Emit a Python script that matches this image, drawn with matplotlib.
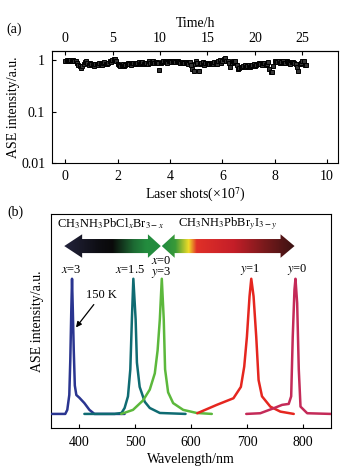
import numpy as np
import matplotlib
matplotlib.use("Agg")
import matplotlib.pyplot as plt
from matplotlib.colors import LinearSegmentedColormap
from matplotlib.patches import Polygon

plt.rcParams['font.family'] = ['Liberation Serif', 'DejaVu Serif']
plt.rcParams['mathtext.fontset'] = 'stix'
plt.rcParams['font.size'] = 10

#---- panel (a): ASE intensity vs number of laser shots (x1e7) ----
shots = [0.00, 0.05, 0.10, 0.15, 0.20, 0.25, 0.30, 0.35, 0.40, 0.45,
         0.50, 0.55, 0.60, 0.65, 0.70, 0.75, 0.80, 0.85, 0.90, 0.95,
         1.00, 1.05, 1.10, 1.15, 1.20, 1.25, 1.30, 1.35, 1.40, 1.45,
         1.50, 1.55, 1.60, 1.65, 1.70, 1.75, 1.80, 1.85, 1.90, 1.95,
         2.00, 2.05, 2.10, 2.15, 2.20, 2.25, 2.30, 2.35, 2.40, 2.45,
         2.50, 2.55, 2.60, 2.65, 2.70, 2.75, 2.80, 2.85, 2.90, 2.95,
         3.00, 3.05, 3.10, 3.15, 3.20, 3.25, 3.30, 3.35, 3.40, 3.45,
         3.50, 3.55, 3.60, 3.65, 3.70, 3.75, 3.80, 3.85, 3.90, 3.95,
         4.00, 4.05, 4.10, 4.15, 4.20, 4.25, 4.30, 4.35, 4.40, 4.45,
         4.50, 4.55, 4.60, 4.65, 4.70, 4.75, 4.80, 4.85, 4.90, 4.95,
         5.00, 5.05, 5.10, 5.15, 5.20, 5.25, 5.30, 5.35, 5.40, 5.45,
         5.50, 5.55, 5.60, 5.65, 5.70, 5.75, 5.80, 5.85, 5.90, 5.95,
         6.00, 6.05, 6.10, 6.15, 6.20, 6.25, 6.30, 6.35, 6.40, 6.45,
         6.50, 6.55, 6.60, 6.65, 6.70, 6.75, 6.80, 6.85, 6.90, 6.95,
         7.00, 7.05, 7.10, 7.15, 7.20, 7.25, 7.30, 7.35, 7.40, 7.45,
         7.50, 7.55, 7.60, 7.65, 7.70, 7.75, 7.80, 7.85, 7.90, 7.95,
         8.00, 8.05, 8.10, 8.15, 8.20, 8.25, 8.30, 8.35, 8.40, 8.45,
         8.50, 8.55, 8.60, 8.65, 8.70, 8.75, 8.80, 8.85, 8.90, 8.95,
         9.00, 9.05, 9.10, 9.15, 9.20]
ase_a = [0.97, 1.02, 0.95, 0.98, 1.00, 0.96, 1.02, 0.98, 0.95, 0.88,
         0.82, 0.76, 0.70, 0.78, 0.85, 0.92, 0.98, 0.88, 0.80, 0.90,
         0.85, 0.80, 0.78, 0.84, 0.85, 0.80, 0.88, 0.85, 0.80, 0.88,
         0.92, 0.84, 0.86, 0.90, 0.95, 0.92, 1.00, 1.06, 1.05, 0.95,
         0.85, 0.80, 0.78, 0.82, 0.84, 0.78, 0.80, 0.86, 0.88, 0.83,
         0.82, 0.87, 0.90, 0.84, 0.86, 0.90, 0.92, 0.86, 0.88, 0.92,
         0.85, 0.88, 0.90, 0.86, 0.95, 0.90, 0.92, 0.95, 0.88, 0.92,
         0.94, 0.90, 0.65, 0.88, 0.92, 0.95, 0.97, 0.92, 0.90, 0.97,
         0.95, 0.92, 0.98, 0.95, 0.93, 0.98, 0.96, 0.92, 0.90, 0.94,
         0.87, 0.90, 0.92, 0.88, 0.85, 0.92, 0.80, 0.68, 0.62, 0.85,
         0.95, 0.90, 0.62, 0.84, 0.88, 0.92, 0.82, 0.87, 0.90, 0.84,
         0.85, 0.90, 0.88, 0.84, 0.93, 0.90, 0.85, 0.95, 1.02, 0.90,
         0.95, 1.05, 1.08, 0.98, 0.98, 0.88, 0.72, 0.90, 0.95, 0.92,
         0.98, 0.80, 0.66, 0.70, 0.72, 0.75, 0.78, 0.80, 0.74, 0.78,
         0.82, 0.74, 0.76, 0.82, 0.85, 0.78, 0.80, 0.86, 0.88, 0.84,
         0.82, 0.88, 0.90, 0.82, 0.85, 0.92, 0.68, 0.60, 0.58, 0.78,
         0.98, 0.94, 0.92, 0.96, 0.88, 0.92, 0.95, 0.88, 0.90, 0.95,
         0.93, 0.88, 0.86, 0.94, 0.92, 0.88, 0.85, 0.72, 0.62, 0.85,
         0.90, 0.95, 0.98, 0.82, 0.80]
time_ticks = [0, 5, 10, 15, 20, 25]
shots_at_25h = 9.05

#---- panel (b): normalised ASE spectra ----
wl_x3 = [350, 367.6, 374.8, 378.4, 382.0, 383.8, 385.6, 386.9, 388.3, 390.0,
         391.9, 394.6, 400.0, 409.0, 418.0, 427.0, 481.0]
in_x3 = [0, 0, 0, 0.03, 0.14, 0.40, 0.77, 1.0, 0.77, 0.47,
         0.21, 0.14, 0.12, 0.08, 0.03, 0, 0]
wl_x15 = [409, 463, 475.5, 481, 487, 491.2, 494, 496.6, 500.7, 503,
          507.9, 517, 526, 544, 590]
in_x15 = [0, 0, 0.007, 0.044, 0.13, 0.33, 0.70, 1.0, 0.70, 0.38,
          0.20, 0.09, 0.044, 0.007, 0]
wl_x0 = [475, 496, 514, 526, 535, 540, 544, 547.5, 551, 553.4,
         558.8, 567.8, 585.8, 609.9, 637]
in_x0 = [0, 0.03, 0.10, 0.18, 0.30, 0.47, 0.70, 1.0, 0.70, 0.33,
         0.16, 0.08, 0.03, 0.007, 0]
wl_y1 = [611, 645.9, 675.7, 689, 695, 699.8, 704.5, 707.6, 711.7, 716.5,
         720.7, 726.8, 741.7, 759.7, 783.6]
in_y1 = [0.005, 0.067, 0.116, 0.20, 0.35, 0.57, 0.87, 1.0, 0.87, 0.57,
         0.25, 0.13, 0.054, 0.017, 0]
wl_y0 = [698.6, 723.7, 747.7, 762.8, 774.6, 779, 781.8, 784.9, 786.7, 789.7,
         792.6, 795.7, 807.7, 850]
in_y0 = [0, 0.005, 0.042, 0.067, 0.074, 0.13, 0.57, 0.92, 1.0, 0.82,
         0.33, 0.054, 0.005, 0]
spec_colors = ['#2a3590', '#0f6b72', '#5cb83c', '#e5261f', '#c42a58']

peak_labels = [r'$x$=3', r'$x$=1.5', '$x$=0\n$y$=3', r'$y$=1', r'$y$=0']
label_wl = [385, 490, 547, 706, 790]
label_y = [1.067, 1.067, 1.085, 1.067, 1.067]

fig = plt.figure(figsize=(3.45, 4.75), dpi=100)

#---- (a) ----
ax1 = fig.add_axes([0.151, 0.657, 0.829, 0.236])
ax1.plot(shots, ase_a, ls='none', marker='s', ms=2.8, mfc='#333333',
         mec='black', mew=0.7)
ax1.set_yscale('log')
ax1.set_ylim(0.01, 1.52)
ax1.set_xlim(-0.5, 10.42)
ax1.set_yticks([0.01, 0.1, 1])
ax1.set_yticklabels(['0.01', '0.1', '1'])
ax1.yaxis.set_minor_locator(matplotlib.ticker.NullLocator())
ax1.set_xticks([0, 2, 4, 6, 8, 10])
ax1.tick_params(direction='in', length=3, labelsize=10, right=False,
                top=False, pad=5)
ax1.set_xlabel(r'Laser shots(×10$^7$)', fontsize=10, labelpad=2)
ax1.set_ylabel('ASE intensity/a.u.', fontsize=10, labelpad=1)

top = ax1.secondary_xaxis('top', functions=(lambda s: s * 25 / shots_at_25h,
                                            lambda t: t * shots_at_25h / 25))
top.set_xticks(time_ticks)
top.tick_params(direction='in', length=3, labelsize=10, pad=4)
top.set_xlabel('Time/h', fontsize=10, labelpad=4)
fig.text(0.018, 0.93, '(a)', fontsize=10)

#---- (b) ----
ax2 = fig.add_axes([0.149, 0.099, 0.81, 0.451])
spectra = [(wl_x3, in_x3), (wl_x15, in_x15), (wl_x0, in_x0),
           (wl_y1, in_y1), (wl_y0, in_y0)]
for (wl, inten), c in zip(spectra, spec_colors):
    ax2.plot(wl, inten, color=c, lw=1.8, solid_joinstyle='round',
             solid_capstyle='round', zorder=3)

for lab, x, y in zip(peak_labels, label_wl, label_y):
    ax2.text(x, y, lab, ha='center', va='center', fontsize=9, linespacing=0.85)

ax2.annotate('150 K', xy=(394, 0.64), xytext=(412, 0.86), fontsize=9,
             arrowprops=dict(arrowstyle='-|>', color='black', lw=0.9,
                             mutation_scale=8, shrinkA=1, shrinkB=0))


def grad_arrow(ax, x0, x1, yc, body, head, hl0, hl1, cmap):
    verts = [(x0, yc), (x0 + hl0, yc + head), (x0 + hl0, yc + body),
             (x1 - hl1, yc + body), (x1 - hl1, yc + head), (x1, yc),
             (x1 - hl1, yc - head), (x1 - hl1, yc - body),
             (x0 + hl0, yc - body), (x0 + hl0, yc - head)]
    poly = Polygon(verts, closed=True, fc='none', ec='none')
    ax.add_patch(poly)
    grad = np.linspace(0, 1, 256).reshape(1, -1)
    im = ax.imshow(grad, cmap=cmap, extent=(x0, x1, yc - head, yc + head),
                   aspect='auto', origin='lower', zorder=2)
    im.set_clip_path(poly)


cmap_cl = LinearSegmentedColormap.from_list(
    'cl', [(0, '#23233c'), (0.35, '#0e0e14'), (0.5, '#0a0a0a'),
           (0.72, '#1d6a33'), (0.85, '#238c3e'), (1, '#238c3e')])
cmap_i = LinearSegmentedColormap.from_list(
    'i', [(0, '#1f8a40'), (0.1, '#3a9a38'), (0.2, '#f0dc28'),
          (0.26, '#e03028'), (0.54, '#c41e28'), (0.77, '#7a1a1c'),
          (1, '#3a1212')])
grad_arrow(ax2, 373, 545.7, 1.242, 0.052, 0.087, 32, 23, cmap_cl)
grad_arrow(ax2, 547.5, 785, 1.242, 0.052, 0.087, 23, 25, cmap_i)
ax2.text(456, 1.407, r'CH$_3$NH$_3$PbCl$_x$Br$_{3-x}$', ha='center',
         va='center', fontsize=9)
ax2.text(666, 1.407, r'CH$_3$NH$_3$PbBr$_y$I$_{3-y}$', ha='center',
         va='center', fontsize=9)

ax2.set_xlim(350, 850)
ax2.set_ylim(-0.104, 1.481)
ax2.set_xticks([400, 500, 600, 700, 800])
ax2.set_yticks([])
ax2.tick_params(direction='in', length=3, labelsize=10, top=False, pad=6)
ax2.set_xlabel('Wavelength/nm', fontsize=10, labelpad=3)
ax2.set_ylabel('ASE intensity/a.u.', fontsize=10, labelpad=5)
fig.text(0.022, 0.545, '(b)', fontsize=10)

fig.savefig('out.png', dpi=100)
